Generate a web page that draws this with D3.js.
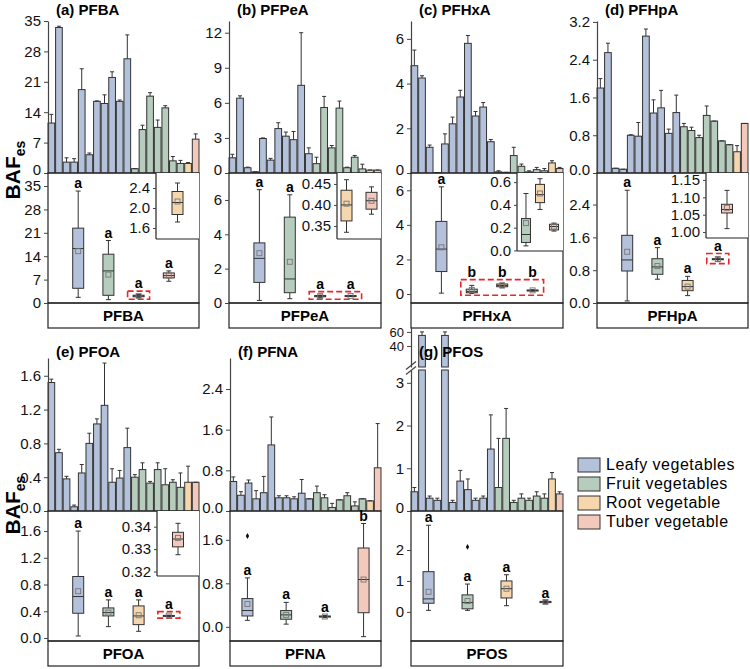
<!DOCTYPE html>
<html>
<head>
<meta charset="utf-8">
<script src="https://cdn.jsdelivr.net/npm/d3@7"></script>
<style>
body { margin: 0; background: #fff; }
text { font-family: Arial, "Liberation Sans", sans-serif; }
</style>
</head>
<body>
<svg id="chart" width="750" height="669"></svg>
<script>
var categories = ["Leafy vegetables", "Fruit vegetables", "Root vegetable", "Tuber vegetable"];
// category of each of the 20 bars (11 leafy, 7 fruit, 1 root, 1 tuber)
var barGroup = [0,0,0,0,0,0,0,0,0,0,0,1,1,1,1,1,1,1,2,3];

var pfbaBar = [11.5, 33.5, 2.5, 2.5, 19.2, 4.2, 16.5, 16, 22, 16.5, 26.3, 1.0, 10, 17.7, 10.5, 15, 2.8, 2.2, 2.2, 7.8];
var pfbaErr = [13.5, 33.8, 3.5, 3.3, 24, 4.6, 16.6, 18, 23.3, 16.8, 31.8, 1.0, 11, 18.5, 12.2, 15.5, 3.8, 2.9, 2.4, 9];
var pfpeaBar = [1.3, 6.4, 0.45, 0.1, 2.95, 1.1, 3.8, 3.15, 2.85, 7.5, 1.65, 0.8, 5.6, 2.15, 5.55, 0.45, 1.35, 0.35, 0.25, 0.25];
var pfpeaErr = [1.6, 6.6, 0.5, 0.1, 3.0, 1.25, 4.3, 3.5, 3.55, 12, 2.15, 1.35, 6.55, 2.35, 6.15, 0.5, 1.5, 0.75, 0.25, 0.25];
var pfhxaBar = [4.8, 4.25, 1.15, 0.02, 1.3, 2.2, 3.4, 5.8, 2.55, 2.95, 1.4, 0.05, 0.03, 0.78, 0.3, 0.05, 0.15, 0.1, 0.45, 0.2];
var pfhxaErr = [5.5, 4.35, 1.25, 0.02, 1.75, 2.5, 3.7, 6.15, 2.75, 3.15, 1.5, 0.1, 0.03, 1.15, 0.4, 0.1, 0.25, 0.2, 0.55, 0.25];
var pfhpaBar = [1.8, 2.55, 0.1, 0.08, 0.8, 0.78, 2.9, 1.27, 1.38, 0.84, 1.28, 0.98, 0.9, 0.75, 1.22, 1.1, 0.68, 0.6, 0.45, 1.05];
var pfhpaErr = [2.0, 2.75, 0.1, 0.08, 0.81, 1.07, 3.05, 1.55, 1.75, 0.93, 1.65, 1.05, 0.97, 0.8, 1.42, 1.1, 0.68, 0.6, 0.58, 1.05];
var pfoaBar = [1.52, 0.69, 0.38, 0.05, 0.45, 0.8, 1.03, 1.25, 0.34, 0.39, 0.75, 0.4, 0.49, 0.33, 0.49, 0.31, 0.34, 0.28, 0.34, 0.34];
var pfoaErr = [1.56, 0.73, 0.41, 0.07, 0.55, 0.92, 1.09, 1.75, 0.5, 0.48, 0.98, 0.43, 0.57, 0.35, 0.57, 0.5, 0.37, 0.45, 0.53, 0.34];
var pfnaBar = [0.58, 0.31, 0.55, 0.24, 0.36, 1.3, 0.26, 0.26, 0.24, 0.35, 0.24, 0.36, 0.26, 0.07, 0.22, 0.3, 0.1, 0.24, 0.2, 0.85];
var pfnaErr = [0.67, 0.38, 0.61, 0.4, 0.68, 1.85, 0.3, 0.3, 0.28, 0.62, 0.24, 0.49, 0.32, 0.15, 0.22, 0.36, 0.18, 0.24, 0.2, 1.72];
var pfosBar = [0.45, 55, 0.3, 0.25, 55, 0.2, 0.7, 0.5, 0.25, 0.3, 1.45, 0.55, 1.7, 0.2, 0.3, 0.25, 0.35, 0.3, 0.75, 0.4];
var pfosErr = [0.55, 60, 0.35, 0.3, 60, 0.25, 0.95, 0.75, 0.3, 0.35, 2.25, 1.7, 2.4, 0.25, 0.4, 0.3, 0.45, 0.4, 0.9, 0.45];

// box stats per category: [low whisker, q1, median, q3, high whisker, mean]
var pfbaBox = [[1.7, 4.4, 16.3, 22.4, 33.5, 15.5], [1.0, 2.3, 9.6, 14.6, 18.7, 8.5], [1.72, 1.87, 2.11, 2.33, 2.5, 2.13], [6.5, 7.5, 8.2, 9.0, 9.6, 8.2]];
var pfpeaBox = [[0.15, 1.2, 2.6, 3.5, 6.6, 2.9], [0.25, 0.6, 1.4, 5.0, 6.3, 2.4], [0.335, 0.362, 0.40, 0.435, 0.46, 0.403], [0.378, 0.39, 0.41, 0.43, 0.443, 0.41]];
var pfhxaBox = [[0.05, 1.3, 2.6, 4.2, 6.2, 2.7], [0.04, 0.07, 0.14, 0.28, 0.5, 0.24], [0.36, 0.42, 0.49, 0.58, 0.63, 0.5], [0.17, 0.18, 0.21, 0.23, 0.24, 0.21]];
var pfhpaBox = [[0.05, 0.78, 1.05, 1.65, 2.75, 1.25], [0.58, 0.7, 0.88, 1.08, 1.35, 0.9], [0.18, 0.3, 0.4, 0.55, 0.65, 0.4], [1.01, 1.055, 1.065, 1.08, 1.12, 1.07]];
var pfoaBox = [[0.03, 0.37, 0.62, 0.92, 1.6, 0.7], [0.17, 0.33, 0.38, 0.45, 0.57, 0.38], [0.1, 0.2, 0.33, 0.48, 0.57, 0.34], [0.3275, 0.331, 0.3345, 0.3375, 0.3415, 0.335]];
var pfnaBox = [[0.12, 0.2, 0.3, 0.52, 0.9, 0.42], [0.05, 0.14, 0.22, 0.3, 0.45, 0.22], [0.17, 0.18, 0.19, 0.2, 0.21, 0.19], [-0.18, 0.26, 0.87, 1.45, 1.9, 0.87]];
var pfosBox = [[0.05, 0.28, 0.42, 1.3, 2.8, 0.65], [0.05, 0.1, 0.3, 0.55, 0.9, 0.35], [0.2, 0.45, 0.75, 1.0, 1.2, 0.75], [0.28, 0.3, 0.32, 0.34, 0.36, 0.32]];

var pfnaOutliers = [[0, 1.67]];
var pfosOutliers = [[1, 2.1]];

var lettersA = ["a", "a", "a", "a"];
var pfhxaLetters = ["a", "b", "b", "b"];
var pfnaLetters = ["a", "a", "a", "b"];

var fills = ["#b4c1da", "#b6ccbd", "#f6d7ad", "#f3c9bb"];
var dark = "#333";

var svg = d3.select("#chart");

function styleAxis(ax, size) {
  ax.select(".domain").attr("stroke", "#444").attr("stroke-width", 1.2);
  ax.selectAll(".tick line").attr("stroke", "#444");
  ax.selectAll(".tick text").attr("font-size", size || 15).attr("fill", "#111")
    .attr("font-family", "Arial, 'Liberation Sans', sans-serif");
}

function drawBox(g, cx, y, s, w, col) {
  var cap = 2.5;
  g.append("line").attr("x1", cx).attr("x2", cx).attr("y1", y(s[4])).attr("y2", y(s[3])).attr("stroke", dark);
  g.append("line").attr("x1", cx).attr("x2", cx).attr("y1", y(s[1])).attr("y2", y(s[0])).attr("stroke", dark);
  [s[0], s[4]].forEach(function(v) {
    g.append("line").attr("x1", cx - cap).attr("x2", cx + cap).attr("y1", y(v)).attr("y2", y(v)).attr("stroke", dark);
  });
  g.append("rect").attr("x", cx - w / 2).attr("y", y(s[3])).attr("width", w)
    .attr("height", Math.max(1, y(s[1]) - y(s[3]))).attr("fill", col).attr("stroke", dark);
  g.append("line").attr("x1", cx - w / 2).attr("x2", cx + w / 2).attr("y1", y(s[2])).attr("y2", y(s[2])).attr("stroke", dark);
  g.append("rect").attr("x", cx - 2.5).attr("y", y(s[5]) - 2.5).attr("width", 5).attr("height", 5)
    .attr("fill", "none").attr("stroke", "#777").attr("stroke-width", 0.9);
}

function drawPanel(p) {
  var g = svg.append("g");
  var fmt = p.fmt ? d3.format(p.fmt) : d3.format("d");

  // ---- bar chart part
  var x = d3.scaleBand().domain(d3.range(p.bars.length)).range([p.x0, p.x1]).paddingInner(0.12);
  var yLow = d3.scaleLinear().domain(p.barDomain).range([p.mid, p.top]);
  var yUp = p.upper ? d3.scaleLinear().domain(p.upper.domain).range(p.upper.range) : null;

  p.bars.forEach(function(v, i) {
    var col = fills[barGroup[i]];
    var e = p.errs[i];
    var cx = x(i) + x.bandwidth() / 2;
    if (yUp && v > p.barDomain[1]) {
      g.append("rect").attr("x", x(i)).attr("y", p.top).attr("width", x.bandwidth())
        .attr("height", p.mid - p.top).attr("fill", col).attr("stroke", dark);
      g.append("rect").attr("x", x(i)).attr("y", yUp(v)).attr("width", x.bandwidth())
        .attr("height", p.upper.range[0] - yUp(v)).attr("fill", col).attr("stroke", dark);
      g.append("line").attr("x1", cx).attr("x2", cx).attr("y1", yUp(v)).attr("y2", yUp(e)).attr("stroke", dark);
      g.append("line").attr("x1", cx - 2).attr("x2", cx + 2).attr("y1", yUp(e)).attr("y2", yUp(e)).attr("stroke", dark);
      return;
    }
    g.append("rect").attr("x", x(i)).attr("y", yLow(v)).attr("width", x.bandwidth())
      .attr("height", p.mid - yLow(v)).attr("fill", col).attr("stroke", dark);
    if (e > v) {
      g.append("line").attr("x1", cx).attr("x2", cx).attr("y1", yLow(v)).attr("y2", yLow(e)).attr("stroke", dark);
    }
    g.append("line").attr("x1", cx - 2).attr("x2", cx + 2).attr("y1", yLow(e)).attr("y2", yLow(e)).attr("stroke", dark);
  });

  var ax = g.append("g").attr("transform", "translate(" + p.x0 + ",0)")
    .call(d3.axisLeft(yLow).tickValues(p.barTicks).tickSize(4).tickSizeOuter(0).tickFormat(fmt));
  styleAxis(ax);
  // zero label sits right on the box panel's top label, lift it a little
  ax.selectAll(".tick").filter(function(d) { return d === 0; }).select("text").attr("y", -3);
  if (yUp) {
    var ax2 = g.append("g").attr("transform", "translate(" + p.x0 + ",0)")
      .call(d3.axisLeft(yUp).tickValues(p.upper.ticks).tickSize(4).tickSizeOuter(0).tickFormat(d3.format("d")));
    styleAxis(ax2, 13);
    var by = (p.top + p.upper.range[0]) / 2;
    [-3, 2].forEach(function(o) {
      g.append("line").attr("x1", p.x0 - 5).attr("x2", p.x0 + 5).attr("y1", by + o + 4).attr("y2", by + o - 4)
        .attr("stroke", "#444").attr("stroke-width", 1.2);
    });
  }

  g.append("text").attr("x", p.x0 + 8).attr("y", p.titleY)
    .attr("font-size", 15).attr("font-weight", "bold").text(p.title);

  // ---- box plot part
  g.append("rect").attr("x", p.x0).attr("y", p.mid).attr("width", p.x1 - p.x0).attr("height", p.bot - p.mid)
    .attr("fill", "none").attr("stroke", "#222").attr("stroke-width", 1.2);
  g.append("rect").attr("x", p.x0).attr("y", p.bot).attr("width", p.x1 - p.x0).attr("height", p.strip - p.bot)
    .attr("fill", "none").attr("stroke", "#222").attr("stroke-width", 1.2);
  g.append("text").attr("x", (p.x0 + p.x1) / 2).attr("y", p.strip - 7).attr("text-anchor", "middle")
    .attr("font-size", 15).attr("font-weight", "bold").text(p.name);

  var yb = d3.scaleLinear().domain(p.boxDomain).range([p.bot, p.mid]);
  var xb = d3.scalePoint().domain(d3.range(4)).range([p.x0, p.x1]).padding(p.pad);
  var axb = g.append("g").attr("transform", "translate(" + p.x0 + ",0)")
    .call(d3.axisLeft(yb).tickValues(p.boxTicks).tickSize(4).tickSizeOuter(0).tickFormat(fmt));
  styleAxis(axb);
  axb.select(".domain").remove();

  var topOf = p.boxes.map(function(s) { return yb(s[4]); });
  if (p.bracket) {
    var bc = p.bracket;
    var hi = d3.max(bc, function(c) { return p.boxes[c][4]; });
    var lo = d3.min(bc, function(c) { return p.boxes[c][0]; });
    var bx0 = xb(bc[0]) - 11, bx1 = xb(bc[bc.length - 1]) + 11;
    var by0 = yb(hi) - 3.5, by1 = yb(lo) + 2;
    g.append("rect").attr("x", bx0).attr("y", by0).attr("width", bx1 - bx0).attr("height", by1 - by0)
      .attr("fill", "none").attr("stroke", "#e8262a").attr("stroke-width", 1.6).attr("stroke-dasharray", "6,3");
    bc.forEach(function(c) { topOf[c] = by0; });
  }

  p.boxes.forEach(function(s, i) {
    drawBox(g, xb(i), yb, s, 11, fills[i]);
    g.append("text").attr("x", xb(i)).attr("y", topOf[i] - 3).attr("text-anchor", "middle")
      .attr("font-size", 14).attr("font-weight", "bold").text(p.letters[i]);
  });
  (p.outliers || []).forEach(function(o) {
    g.append("path").attr("d", d3.symbol(d3.symbolDiamond, 10)())
      .attr("transform", "translate(" + xb(o[0]) + "," + yb(o[1]) + ")").attr("fill", "#111");
  });

  // ---- inset
  if (p.inset) {
    var ins = p.inset;
    var gi = g.append("g");
    gi.append("rect").attr("x", ins.left).attr("y", p.mid).attr("width", p.x1 - ins.left)
      .attr("height", ins.bottom - p.mid).attr("fill", "#fff");
    gi.append("line").attr("x1", ins.left).attr("x2", ins.left).attr("y1", p.mid).attr("y2", ins.bottom).attr("stroke", "#222").attr("stroke-width", 1.2);
    gi.append("line").attr("x1", ins.left).attr("x2", p.x1).attr("y1", ins.bottom).attr("y2", ins.bottom).attr("stroke", "#222").attr("stroke-width", 1.2);
    var yi = d3.scaleLinear().domain(ins.domain).range([ins.bottom, p.mid]);
    var xi = d3.scalePoint().domain(ins.cats).range([ins.left, p.x1]).padding(ins.pad);
    var axi = gi.append("g").attr("transform", "translate(" + ins.left + ",0)")
      .call(d3.axisLeft(yi).tickValues(ins.ticks).tickSize(3).tickSizeOuter(0).tickFormat(d3.format(ins.fmt)));
    styleAxis(axi);
    axi.select(".domain").remove();
    ins.cats.forEach(function(c) {
      drawBox(gi, xi(c), yi, p.boxes[c], ins.w || 11, fills[c]);
    });
  }
}

var topRow = {top: 21, mid: 173, bot: 303, strip: 328, titleY: 15};
var botRow = {top: 358, mid: 511, bot: 641, strip: 666, titleY: 357};

var panels = [
  Object.assign({title: "(a) PFBA", name: "PFBA", x0: 48, x1: 199, bars: pfbaBar, errs: pfbaErr,
    barDomain: [0, 35], barTicks: [0, 7, 14, 21, 28, 35], boxes: pfbaBox, boxDomain: [0, 38.9],
    boxTicks: [0, 7, 14, 21, 28, 35], letters: lettersA, pad: 1, bracket: [2],
    inset: {left: 156, bottom: 239, domain: [1.38, 2.7], ticks: [1.6, 2.0, 2.4], fmt: ".1f", cats: [2], pad: 0.5}}, topRow),
  Object.assign({title: "(b) PFPeA", name: "PFPeA", x0: 229, x1: 381, bars: pfpeaBar, errs: pfpeaErr,
    barDomain: [0, 13], barTicks: [0, 3, 6, 9, 12], boxes: pfpeaBox, boxDomain: [0, 7.57],
    boxTicks: [0, 2, 4, 6], letters: lettersA, pad: 1, bracket: [2, 3],
    inset: {left: 337, bottom: 239, domain: [0.319, 0.476], ticks: [0.35, 0.40, 0.45], fmt: ".2f", cats: [2, 3], pad: 0.38}}, topRow),
  Object.assign({title: "(c) PFHxA", name: "PFHxA", x0: 411, x1: 563, bars: pfhxaBar, errs: pfhxaErr,
    barDomain: [0, 6.8], barTicks: [0, 2, 4, 6], boxes: pfhxaBox, boxDomain: [-0.52, 7.0],
    boxTicks: [0, 2, 4, 6], letters: pfhxaLetters, pad: 1, bracket: [1, 2, 3],
    inset: {left: 517, bottom: 251, domain: [-0.005, 0.68], ticks: [0, 0.2, 0.4, 0.6], fmt: ".1f", cats: [1, 2, 3], pad: 0.64, w: 9}}, topRow),
  Object.assign({title: "(d) PFHpA", name: "PFHpA", x0: 597, x1: 748, bars: pfhpaBar, errs: pfhpaErr, fmt: ".1f",
    barDomain: [0, 3.22], barTicks: [0, 0.8, 1.6, 2.4, 3.2], boxes: pfhpaBox, boxDomain: [0, 3.17],
    boxTicks: [0, 0.8, 1.6, 2.4], letters: lettersA, pad: 1, bracket: [3],
    inset: {left: 706, bottom: 238, domain: [0.983, 1.17], ticks: [1.00, 1.05, 1.10, 1.15], fmt: ".2f", cats: [3], pad: 0.5}}, topRow),
  Object.assign({title: "(e) PFOA", name: "PFOA", x0: 48, x1: 199, bars: pfoaBar, errs: pfoaErr, fmt: ".1f",
    barDomain: [0, 1.81], barTicks: [0, 0.4, 0.8, 1.2, 1.6], boxes: pfoaBox, boxDomain: [-0.045, 1.9],
    boxTicks: [0, 0.4, 0.8, 1.2, 1.6], letters: lettersA, pad: 1, bracket: [3],
    inset: {left: 157, bottom: 576, domain: [0.318, 0.347], ticks: [0.32, 0.33, 0.34], fmt: ".2f", cats: [3], pad: 0.5}}, botRow),
  Object.assign({title: "(f) PFNA", name: "PFNA", x0: 230, x1: 381, bars: pfnaBar, errs: pfnaErr, fmt: ".1f",
    barDomain: [0, 3.01], barTicks: [0, 0.8, 1.6, 2.4], boxes: pfnaBox, boxDomain: [-0.26, 2.13],
    boxTicks: [0, 0.8, 1.6], letters: pfnaLetters, pad: 0.45, outliers: pfnaOutliers}, botRow),
  Object.assign({title: "(g) PFOS", name: "PFOS", x0: 411, x1: 563, bars: pfosBar, errs: pfosErr,
    barDomain: [0, 3.3], barTicks: [0, 1, 2, 3], boxes: pfosBox, boxDomain: [-0.94, 3.26],
    boxTicks: [0, 1, 2], letters: lettersA, pad: 0.45, outliers: pfosOutliers,
    upper: {domain: [10, 67], range: [367, 327], ticks: [40, 60]}}, botRow)
];
panels[6].top = 370;

panels.forEach(drawPanel);

// y axis titles
[170, 505].forEach(function(cy) {
  var t = svg.append("text").attr("transform", "translate(20," + cy + ") rotate(-90)")
    .attr("text-anchor", "middle").attr("font-size", 21).attr("font-weight", "bold");
  t.append("tspan").text("BAF");
  t.append("tspan").attr("font-size", 14).attr("dy", 5).text("es");
});

// legend
var lg = svg.append("g").attr("transform", "translate(578,458)");
categories.forEach(function(c, i) {
  lg.append("rect").attr("x", 0).attr("y", i * 19).attr("width", 22).attr("height", 14)
    .attr("fill", fills[i]).attr("stroke", dark);
  lg.append("text").attr("x", 28).attr("y", i * 19 + 12).attr("font-size", 16)
    .attr("letter-spacing", 0.5).text(c);
});
</script>
</body>
</html>
